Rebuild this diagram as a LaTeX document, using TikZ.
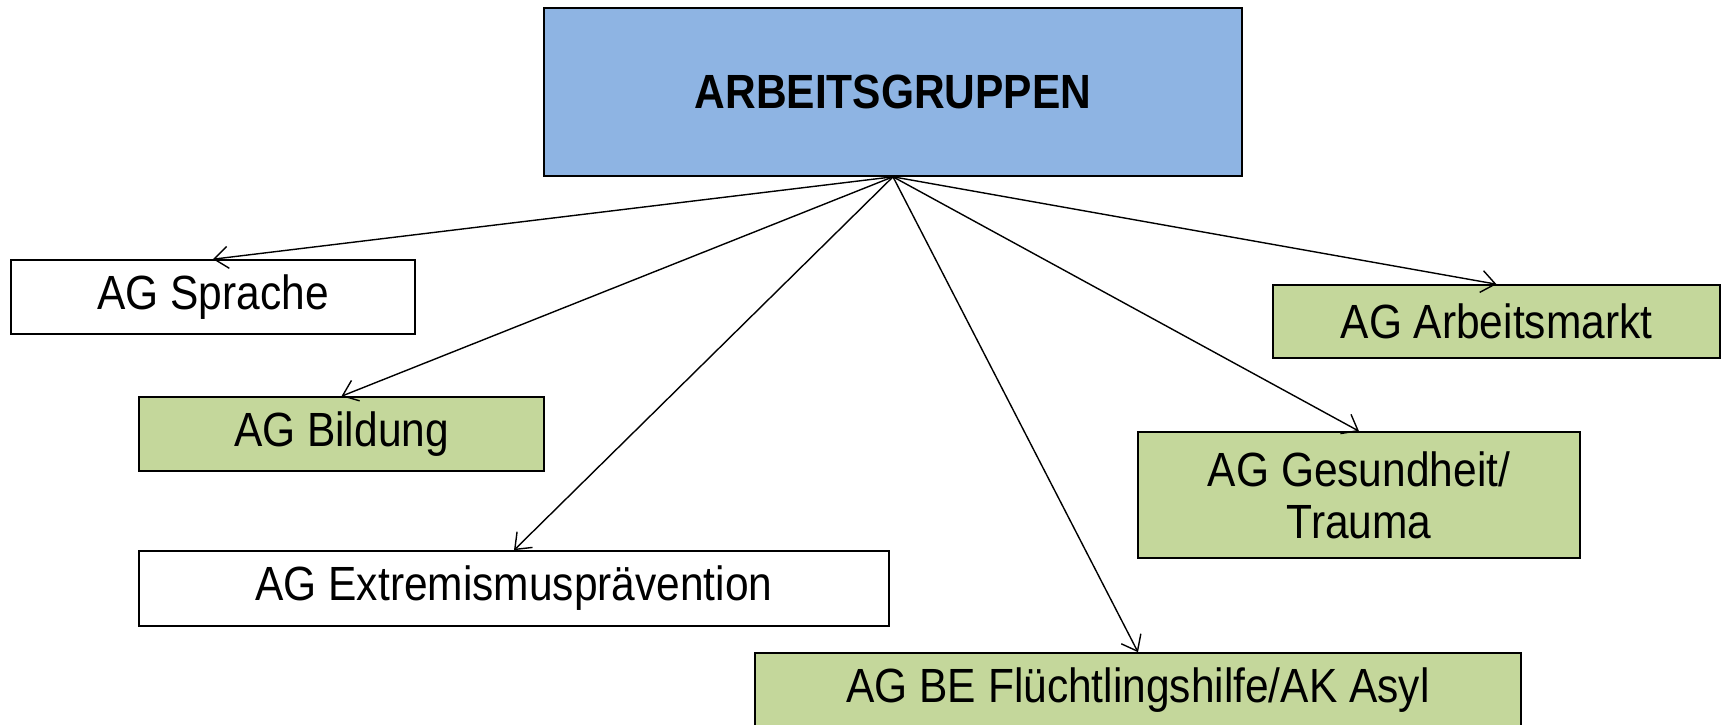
\documentclass[tikz,border=0pt]{standalone}
\usepackage{fontspec}
\setmainfont[FakeStretch=0.885]{Liberation Sans}
\usetikzlibrary{arrows.meta}
\definecolor{topblue}{HTML}{8EB4E3}
\definecolor{aggreen}{HTML}{C4D79B}
\begin{document}
\begin{tikzpicture}[x=1pt,y=-1pt,
  box/.style={draw=black,line width=1.6pt,inner sep=0pt,align=center,
    font=\fontsize{48}{52}\selectfont},
  white box/.style={box,fill=white},
  green box/.style={box,fill=aggreen},
  conn/.style={line width=1.4pt,-{Straight Barb[length=14pt,width=22pt,line width=1.4pt]}}]
\useasboundingbox (0,0) rectangle (1726,724);
\node[box,fill=topblue,minimum width=698pt,minimum height=168pt,font=\fontsize{48}{52}\selectfont\bfseries] (top) at (893,92) {ARBEITSGRUPPEN};
\node[white box,minimum width=404pt,minimum height=74pt] (spr) at (213,297) {AG Sprache};
\node[green box,minimum width=405pt,minimum height=74pt] (bil) at (341.5,434) {AG Bildung};
\node[white box,minimum width=750pt,minimum height=75pt] (ext) at (514,588.5) {AG Extremismusprävention};
\node[green box,minimum width=766pt,minimum height=74pt] (be) at (1138,690) {AG BE Flüchtlingshilfe/AK Asyl};
\node[green box,minimum width=447pt,minimum height=73pt] (arb) at (1496.5,321.5) {AG Arbeitsmarkt};
\node[green box,minimum width=442pt,minimum height=126pt] (ges) at (1359,495) {AG Gesundheit/\\Trauma};
\draw[conn] (top.south) -- (spr.north);
\draw[conn] (top.south) -- (bil.north);
\draw[conn] (top.south) -- (ext.north);
\draw[conn] (top.south) -- (be.north);
\draw[conn] (top.south) -- (ges.north);
\draw[conn] (top.south) -- (arb.north);
\end{tikzpicture}
\end{document}
